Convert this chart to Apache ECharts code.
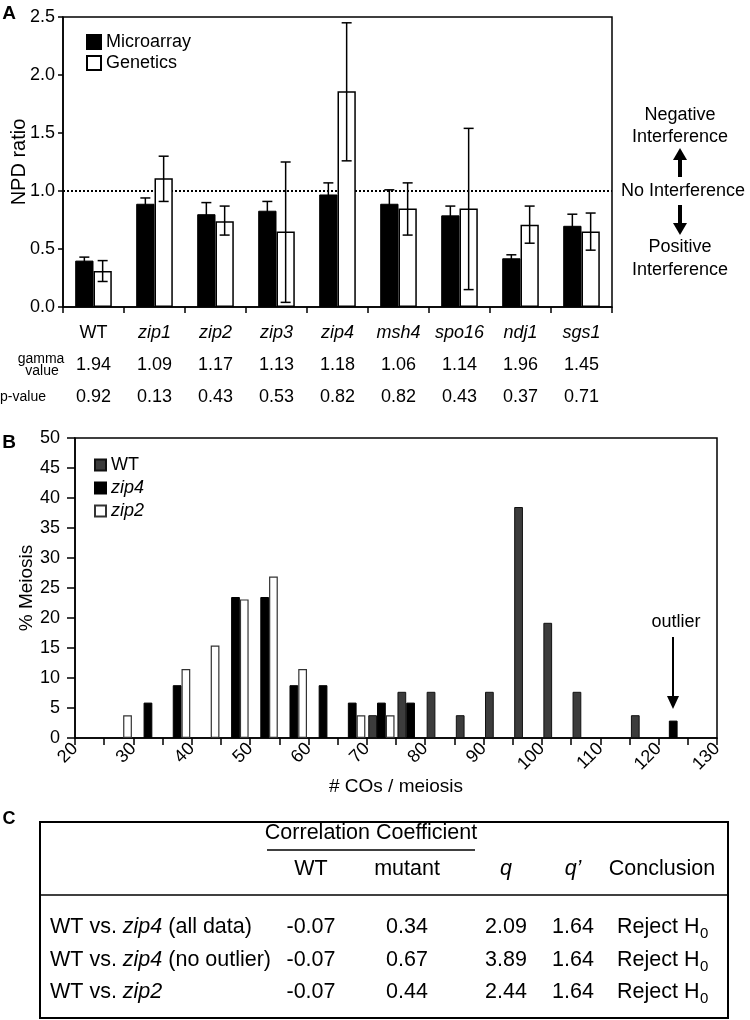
<!DOCTYPE html>
<html><head><meta charset="utf-8">
<script src="https://cdn.jsdelivr.net/npm/echarts@6/dist/echarts.min.js"></script>
<style>html,body{margin:0;padding:0;background:#fff}#c{width:750px;height:1020px}</style>
</head><body><div id="c"></div>
<script>
const FONT = '"Liberation Sans", Arial, Helvetica, sans-serif';

// ---------- Panel A data ----------
const genotypes   = ['WT','zip1','zip2','zip3','zip4','msh4','spo16','ndj1','sgs1'];
const microarray  = [0.40, 0.89, 0.80, 0.83, 0.97, 0.89, 0.79, 0.42, 0.70];
const microHigh   = [0.43, 0.94, 0.90, 0.91, 1.07, 1.01, 0.87, 0.45, 0.80];
const microLow    = [0.37, 0.84, 0.70, 0.75, 0.87, 0.77, 0.71, 0.39, 0.60];
const genetics    = [0.31, 1.11, 0.74, 0.65, 1.86, 0.85, 0.85, 0.71, 0.65];
const geneticsHigh= [0.40, 1.30, 0.87, 1.25, 2.45, 1.07, 1.54, 0.87, 0.81];
const geneticsLow = [0.22, 0.91, 0.62, 0.04, 1.26, 0.62, 0.15, 0.55, 0.49];
const gammaValues = ['1.94','1.09','1.17','1.13','1.18','1.06','1.14','1.96','1.45'];
const pValues     = ['0.92','0.13','0.43','0.53','0.82','0.82','0.43','0.37','0.71'];
const noInterference = 1.0;

// ---------- Panel B data ----------
const coBins = ['20-25','25-30','30-35','35-40','40-45','45-50','50-55','55-60','60-65','65-70','70-75',
                '75-80','80-85','85-90','90-95','95-100','100-105','105-110','110-115','115-120','120-125','125-130'];
const wtPct   = [0, 0,   0,   0,    0,    0,    0,    0,    0,   0,   3.8, 7.7, 7.7, 3.8, 7.7, 38.5, 19.2, 7.7, 0, 3.8, 0,   0];
const zip4Pct = [0, 0,   5.9, 8.8,  0,    23.5, 23.5, 8.8,  8.8, 5.9, 5.9, 5.9, 0,   0,   0,   0,    0,    0,   0, 0,   2.9, 0];
const zip2Pct = [0, 3.8, 0,   11.5, 15.4, 23.1, 26.9, 11.5, 0,   3.8, 3.8, 0,   0,   0,   0,   0,    0,    0,   0, 0,   0,   0];

// ---------- Panel C data ----------
const tableHeaders = ['WT','mutant','q','q\u2019','Conclusion'];
const rowLabels  = [['WT vs. ','zip4',' (all data)'], ['WT vs. ','zip4',' (no outlier)'], ['WT vs. ','zip2','']];
const wtCorr     = ['-0.07','-0.07','-0.07'];
const mutantCorr = ['0.34','0.67','0.44'];
const qVals      = ['2.09','3.89','2.44'];
const qPrimeVals = ['1.64','1.64','1.64'];
const conclusions= ['Reject H','Reject H','Reject H'];
const conclSub   = ['0','0','0'];

const chart = echarts.init(document.getElementById('c'), null, {renderer:'canvas'});

const black = '#000';
const axLine = {show:true, lineStyle:{color:black, width:1.5}};
const italicRich = {
  n:{fontSize:18, fontFamily:FONT, color:black},
  i:{fontSize:18, fontFamily:FONT, color:black, fontStyle:'italic'}
};
function geneFmt(v){ return v === 'WT' ? '{n|' + v + '}' : '{i|' + v + '}'; }
const zeroToGap = a => a.map(v => v === 0 ? '-' : v);

function errRender(sign){
  return function(params, api){
    const i = api.value(0);
    const lo = api.coord([i, api.value(1)]);
    const hi = api.coord([i, api.value(2)]);
    const band = api.size([1, 0])[0];
    const x = lo[0] + sign * band * 0.15;
    const cap = 5;
    const st = {stroke:black, lineWidth:1.5};
    return {type:'group', children:[
      {type:'line', shape:{x1:x, y1:lo[1], x2:x, y2:hi[1]}, style:st},
      {type:'line', shape:{x1:x-cap, y1:hi[1], x2:x+cap, y2:hi[1]}, style:st},
      {type:'line', shape:{x1:x-cap, y1:lo[1], x2:x+cap, y2:lo[1]}, style:st}
    ]};
  };
}

// graphics
const G = [];
function txt(x, y, text, opt){
  opt = opt || {};
  G.push({type:'text', x:x, y:y, z:100, style:Object.assign({
    text:text, fill:black, fontFamily:FONT, fontSize:18, align:'center', verticalAlign:'middle'
  }, opt)});
}
// panel letters
txt(9, 14, 'A', {fontWeight:'bold', fontSize:19});
txt(9, 443, 'B', {fontWeight:'bold', fontSize:19});
txt(9, 819, 'C', {fontWeight:'bold', fontSize:18});
// row headers under panel A
txt(41, 359, 'gamma', {fontSize:14});
txt(42, 371, 'value', {fontSize:14});
txt(23, 397, 'p-value', {fontSize:14});
// interference annotation
txt(680, 115, 'Negative');
txt(680, 137, 'Interference');
txt(683, 191, 'No Interference');
txt(680, 247, 'Positive');
txt(680, 270, 'Interference');
G.push({type:'polygon', shape:{points:[[680,148],[673,160],[687,160]]}, style:{fill:black}});
G.push({type:'rect', shape:{x:678, y:159, width:4, height:18}, style:{fill:black}});
G.push({type:'rect', shape:{x:678, y:205, width:4, height:19}, style:{fill:black}});
G.push({type:'polygon', shape:{points:[[673,223],[687,223],[680,235]]}, style:{fill:black}});
// outlier annotation
txt(676, 622, 'outlier');
G.push({type:'line', shape:{x1:673, y1:637, x2:673, y2:698}, style:{stroke:black, lineWidth:2}});
G.push({type:'polygon', shape:{points:[[667,696],[679,696],[673,709]]}, style:{fill:black}});
// table C
const TF = 21.5;
G.push({type:'rect', shape:{x:40, y:822, width:688, height:196}, style:{fill:'none', stroke:black, lineWidth:2}});
G.push({type:'line', shape:{x1:40, y1:895, x2:728, y2:895}, style:{stroke:black, lineWidth:1.5}});
G.push({type:'line', shape:{x1:267, y1:850, x2:475, y2:850}, style:{stroke:black, lineWidth:1.5}});
txt(371, 833, 'Correlation Coefficient', {fontSize:TF});
const colX = [311, 407, 506, 573, 662];
tableHeaders.forEach((h, k) => txt(colX[k], 869, h, {fontSize:TF, fontStyle:(k===2||k===3)?'italic':'normal'}));
const rowY = [927, 960, 992];
const tRich = {
  n:{fontSize:TF, fontFamily:FONT, fill:black},
  i:{fontSize:TF, fontFamily:FONT, fill:black, fontStyle:'italic'}
};
rowLabels.forEach((r, k) => {
  G.push({type:'text', x:50, y:rowY[k], z:100, style:{
    text:'{n|' + r[0] + '}{i|' + r[1] + '}' + (r[2] ? '{n|' + r[2] + '}' : ''),
    rich:tRich, fill:black, fontFamily:FONT, fontSize:TF, align:'left', verticalAlign:'middle'}});
  txt(colX[0], rowY[k], wtCorr[k], {fontSize:TF});
  txt(colX[1], rowY[k], mutantCorr[k], {fontSize:TF});
  txt(colX[2], rowY[k], qVals[k], {fontSize:TF});
  txt(colX[3], rowY[k], qPrimeVals[k], {fontSize:TF});
  txt(617, rowY[k], conclusions[k], {fontSize:TF, align:'left'});
  txt(700, rowY[k] + 7, conclSub[k], {fontSize:15, align:'left'});
});

const option = {
  animation:false,
  backgroundColor:'#fff',
  textStyle:{fontFamily:FONT, color:black},
  grid:[
    {left:63, top:17, width:549, height:290, show:true, borderColor:black, borderWidth:1.5, containLabel:false, outerBoundsMode:'none'},
    {left:75, top:438, width:642, height:300, show:true, borderColor:black, borderWidth:1.5, containLabel:false, outerBoundsMode:'none'}
  ],
  legend:[
    {data:['Microarray','Genetics'], orient:'vertical', left:81, top:28, icon:'rect',
     itemWidth:14, itemHeight:14, itemGap:3, selectedMode:false,
     textStyle:{fontSize:18, color:black, fontFamily:FONT}},
    {data:['WT','zip4','zip2'], orient:'vertical', left:89, top:451, icon:'rect',
     itemWidth:11, itemHeight:11, itemGap:5, selectedMode:false,
     formatter:geneFmt,
     textStyle:{fontSize:18, color:black, fontFamily:FONT, rich:italicRich}}
  ],
  xAxis:[
    {gridIndex:0, type:'category', data:genotypes, position:'bottom',
     axisLine:axLine, axisTick:{show:true, length:6, lineStyle:{color:black, width:1.5}},
     axisLabel:{interval:0, margin:17, fontSize:18, color:black, formatter:geneFmt, rich:italicRich}},
    {gridIndex:0, type:'category', data:gammaValues, position:'bottom', offset:32,
     axisLine:{show:false}, axisTick:{show:false},
     axisLabel:{interval:0, margin:17, fontSize:18, color:black}},
    {gridIndex:0, type:'category', data:pValues, position:'bottom', offset:64,
     axisLine:{show:false}, axisTick:{show:false},
     axisLabel:{interval:0, margin:17, fontSize:18, color:black}},
    {gridIndex:0, type:'value', min:0, max:1, show:false},
    {gridIndex:1, type:'category', data:coBins, show:false},
    {gridIndex:1, type:'value', min:20, max:130, interval:5, position:'bottom',
     axisLine:axLine, axisTick:{show:true, length:7, lineStyle:{color:black, width:1.5}},
     splitLine:{show:false},
     axisLabel:{rotate:45, margin:8, fontSize:18, color:black, formatter:v => (v % 10 === 0 ? String(v) : '')},
     name:'# COs / meiosis', nameLocation:'middle', nameGap:39, nameMoveOverlap:false,
     nameTextStyle:{fontSize:19, color:black, fontFamily:FONT}}
  ],
  yAxis:[
    {gridIndex:0, type:'value', min:0, max:2.5, interval:0.5,
     axisLine:axLine, axisTick:{show:true, length:5, lineStyle:{color:black, width:1.5}},
     splitLine:{show:false},
     axisLabel:{margin:8, fontSize:18, color:black, formatter:v => v.toFixed(1)},
     name:'NPD ratio', nameLocation:'middle', nameGap:34, nameMoveOverlap:false,
     nameTextStyle:{fontSize:20, color:black, fontFamily:FONT}},
    {gridIndex:1, type:'value', min:0, max:50, interval:5,
     axisLine:axLine, axisTick:{show:true, length:8, lineStyle:{color:black, width:1.5}},
     splitLine:{show:false},
     axisLabel:{margin:15, fontSize:18, color:black},
     name:'% Meiosis', nameLocation:'middle', nameGap:39, nameMoveOverlap:false,
     nameTextStyle:{fontSize:19, color:black, fontFamily:FONT}}
  ],
  series:[
    {name:'Microarray', type:'bar', xAxisIndex:0, yAxisIndex:0, data:microarray,
     barWidth:'30%', barGap:'0%', z:3, itemStyle:{color:black, borderColor:black, borderWidth:1}},
    {name:'Genetics', type:'bar', xAxisIndex:0, yAxisIndex:0, data:genetics,
     barWidth:'30%', barGap:'0%', z:3, itemStyle:{color:'#fff', borderColor:black, borderWidth:1.5}},
    {name:'errMicro', type:'custom', xAxisIndex:0, yAxisIndex:0, z:4, silent:true,
     data:genotypes.map((g, i) => [i, microLow[i], microHigh[i]]),
     encode:{x:0, y:[1,2]}, renderItem:errRender(-1)},
    {name:'errGen', type:'custom', xAxisIndex:0, yAxisIndex:0, z:4, silent:true,
     data:genotypes.map((g, i) => [i, geneticsLow[i], geneticsHigh[i]]),
     encode:{x:0, y:[1,2]}, renderItem:errRender(1)},
    {name:'ref', type:'line', xAxisIndex:3, yAxisIndex:0, z:1, silent:true, symbol:'none',
     data:[[0, noInterference], [1, noInterference]],
     lineStyle:{color:black, width:2, type:[2,2]}},
    {name:'WT', type:'bar', xAxisIndex:4, yAxisIndex:1, data:zeroToGap(wtPct),
     barGap:'0%', barCategoryGap:'10%', itemStyle:{color:'#3c3c3c', borderColor:'#111', borderWidth:1}},
    {name:'zip4', type:'bar', xAxisIndex:4, yAxisIndex:1, data:zeroToGap(zip4Pct),
     barGap:'0%', barCategoryGap:'10%', itemStyle:{color:black, borderColor:black, borderWidth:1}},
    {name:'zip2', type:'bar', xAxisIndex:4, yAxisIndex:1, data:zeroToGap(zip2Pct),
     barGap:'0%', barCategoryGap:'10%', itemStyle:{color:'#fff', borderColor:'#333', borderWidth:1.2}}
  ],
  graphic:G
};
chart.setOption(option);
</script></body></html>
